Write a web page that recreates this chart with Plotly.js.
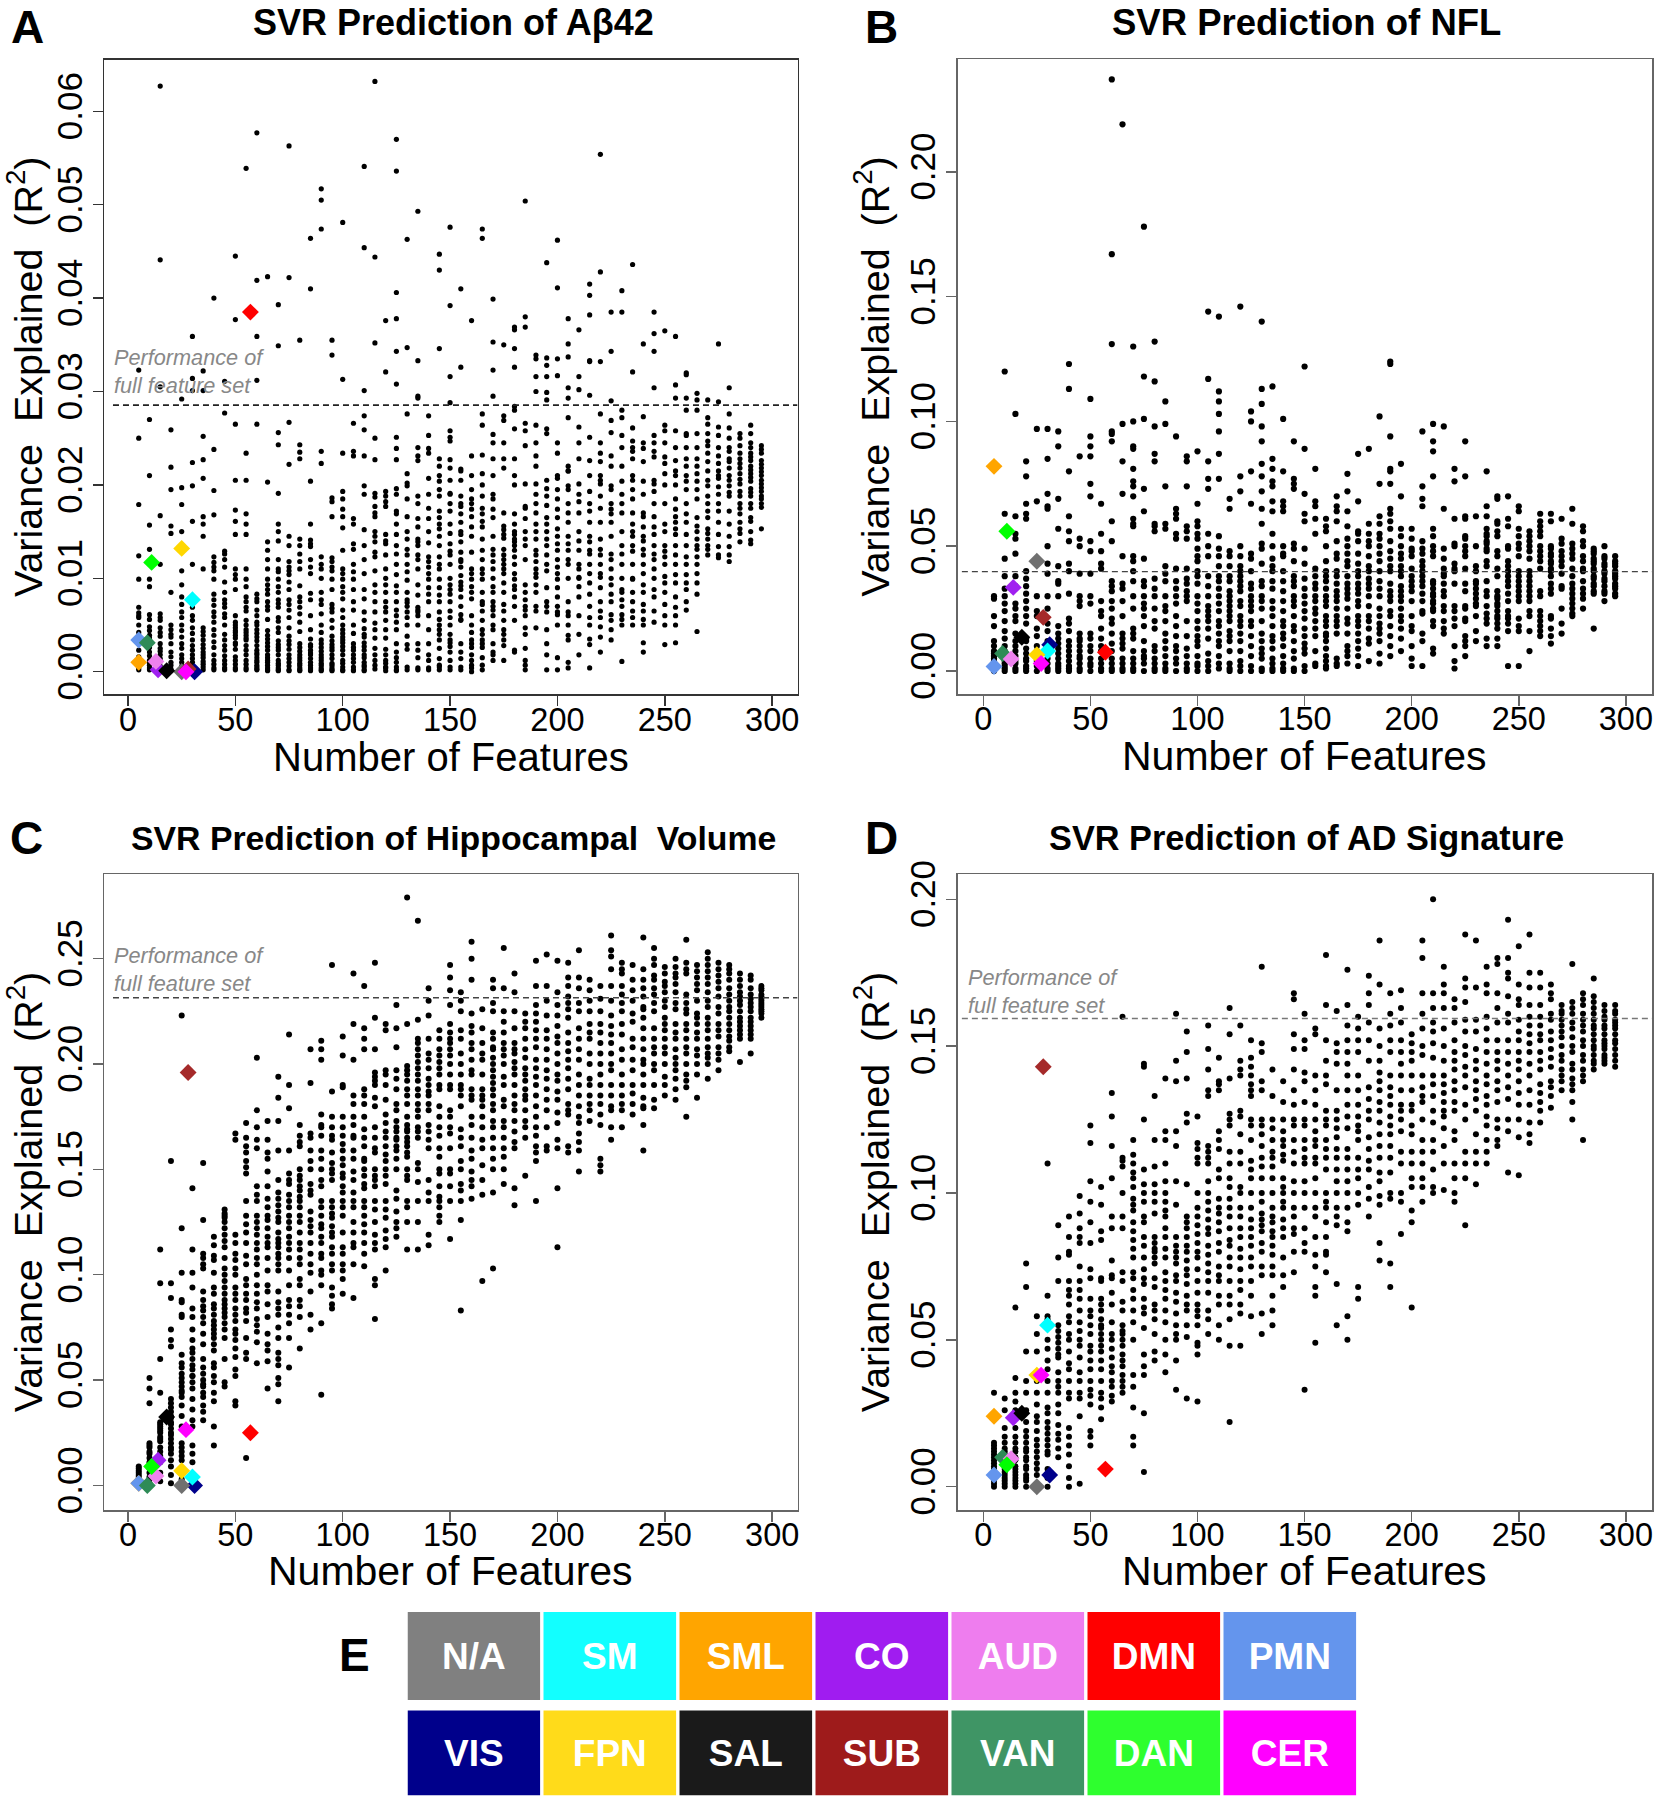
<!DOCTYPE html>
<html><head><meta charset="utf-8">
<script src="https://cdn.plot.ly/plotly-3.0.1.min.js"></script>
<style>html,body{margin:0;padding:0;background:#fff}</style></head>
<body><div id="chart" style="width:1659px;height:1800px"></div>
<script>
const featureCounts=[5,10,15,20,25,30,35,40,45,50,55,60,65,70,75,80,85,90,95,100,105,110,115,120,125,130,135,140,145,150,155,160,165,170,175,180,185,190,195,200,205,210,215,220,225,230,235,240,245,250,255,260,265,270,275,280,285,290,295];

// Panel A, R^2 in units of 1e-4, one list per feature count
const abeta42Columns=[
[323,250,179,124,99,69,63,58,50,37,23,16,7,2,60,42,30,11,4],
[270,210,157,131,99,91,61,56,48,39,36,26,21,12,7,2,44,33,17,9,4],
[627,441,305,167,115,62,55,47,38,25,18,11,6,2,58,42,30,22,14,4],
[259,219,195,156,148,85,50,40,37,21,10,3,1,45,30,16,7],
[292,197,179,150,108,93,80,64,50,37,25,14,6,1,72,58,44,30,18,10,3],
[359,314,301,224,199,161,115,69,60,47,34,28,18,10,2,55,41,23,14,6],
[322,301,252,227,207,166,158,145,110,47,39,29,21,15,8,2,43,34,25,18,11,5],
[400,238,194,168,123,117,99,77,71,64,53,39,26,12,4,112,108,83,59,45,32,18,8,2],
[311,277,129,126,112,96,77,69,58,34,23,12,4,120,85,73,62,50,40,28,17,8,2],
[445,377,265,205,173,161,147,104,99,88,53,47,42,36,29,12,4,110,60,50,44,39,31,24,16,8,2],
[539,234,205,169,158,147,110,99,91,75,69,50,45,39,34,23,12,4,80,65,55,42,36,28,18,8,2],
[577,419,359,312,265,83,75,66,53,45,37,23,18,12,7,2,78,60,50,41,33,28,20,15,10,5,3],
[423,203,139,120,99,88,83,75,66,56,39,31,23,15,10,2,130,110,93,70,44,35,27,18,12,7,4,1],
[393,349,256,243,191,158,150,120,110,107,91,77,69,58,47,29,23,12,7,2,140,99,85,73,54,42,33,26,18,9,4,1],
[563,422,267,222,145,112,104,96,77,66,47,29,18,10,2,135,118,108,88,72,58,38,33,24,14,6,1],
[355,243,235,228,142,126,110,75,69,53,26,18,12,7,2,135,118,92,80,62,43,30,22,15,9,4,1],
[464,410,204,158,141,134,112,77,45,29,23,18,10,2,137,120,105,84,60,35,27,20,14,7,4,1],
[517,505,474,236,223,123,110,77,72,50,34,26,18,12,7,2,115,100,85,62,42,30,22,15,9,4,1],
[355,339,186,182,166,118,112,99,72,64,47,29,23,18,7,2,122,108,88,68,55,38,33,26,14,9,4,1],
[481,313,234,193,174,166,154,110,99,91,66,50,45,37,31,23,12,2,185,130,105,85,78,58,41,34,27,18,9,5,1],
[266,236,231,164,137,131,107,99,66,23,18,10,2,158,115,88,75,50,41,30,26,14,5,1],
[541,454,301,274,259,231,199,88,64,37,31,23,15,7,2,190,152,135,120,105,78,55,46,40,27,18,10,5,1],
[632,444,352,250,227,191,177,166,150,139,123,93,64,45,18,7,187,170,145,128,108,85,75,52,36,25,12,3],
[376,321,193,188,182,177,147,137,110,93,69,64,45,18,12,4,1,140,125,100,85,75,55,36,24,9,5],
[570,536,406,378,343,308,251,239,227,196,172,169,147,126,104,85,66,53,21,10,2,190,158,135,115,92,75,60,45,30,15,5,1],
[463,347,276,212,202,199,166,142,131,107,77,74,64,58,29,2,185,150,125,115,98,85,70,50,38,24,5],
[493,333,295,293,240,231,226,188,164,142,139,120,93,69,66,64,23,2,180,155,135,125,110,82,60,50,30,15,4],
[274,253,239,234,207,164,123,118,112,99,83,45,18,2,190,175,150,138,105,90,75,60,30,12,4],
[447,430,346,228,220,204,188,172,158,153,123,110,99,75,56,45,34,7,2,210,195,165,145,135,115,90,82,64,50,40,25,14,5],
[476,392,316,288,258,251,247,227,218,191,180,158,137,129,93,83,58,34,31,21,2,205,190,172,148,125,115,100,88,75,65,50,40,27,12,5],
[410,326,217,215,188,177,169,147,139,120,118,96,88,61,56,21,2,205,180,160,150,128,112,103,92,80,70,55,30,14,5],
[376,231,210,185,174,166,99,91,85,50,34,26,12,7,0,195,180,155,145,128,110,105,78,60,42,30,18,4],
[474,464,276,264,232,212,188,169,161,142,110,99,75,72,45,34,26,2,200,175,155,130,120,105,85,65,55,40,30,15,7],
[399,353,323,295,254,245,228,185,174,131,110,91,75,66,50,21,12,210,190,165,145,125,118,100,85,70,60,45,30,18],
[350,274,269,245,228,218,156,147,131,120,110,72,45,34,12,170,152,143,125,115,105,95,85,65,55,40,28],
[369,366,346,326,284,280,260,228,210,169,158,147,139,123,99,88,23,21,200,150,142,135,130,115,105,92,80,70,55],
[504,380,369,266,258,242,201,177,164,142,93,77,66,47,12,7,2,175,150,135,120,85,70,60,40,25],
[339,335,316,300,264,245,231,201,180,158,142,118,110,101,93,47,220,190,170,150,130,125,105,85,70,65],
[438,336,328,316,299,291,260,255,196,188,158,142,115,75,64,18,2,205,178,165,150,135,125,108,90,70,45,30],
[462,411,335,317,245,234,210,207,174,153,137,112,99,64,61,15,2,195,185,165,145,130,120,105,90,80,70,50],
[378,351,337,304,293,272,220,215,199,180,137,120,64,50,39,34,10,4,215,195,170,160,145,130,115,100,75,60],
[366,316,302,262,228,201,182,150,115,101,91,18,245,190,170,140,130,110,100,80,60,40],
[415,403,382,333,332,296,251,226,193,172,139,126,115,83,58,29,4,210,180,160,145,130,105,95,70,50,35],
[554,428,332,276,245,234,210,201,188,142,131,115,101,58,37,21,225,205,175,160,125,105,90,75,65,48],
[385,343,290,269,256,231,199,174,169,126,110,93,83,61,45,34,220,195,180,160,145,120,100,75,55],
[408,385,280,272,253,204,180,126,88,77,61,50,11,240,220,190,170,150,135,115,100,85,70,56],
[436,321,261,247,236,228,210,185,158,145,129,99,75,58,50,240,205,195,170,150,135,115,100,85,65],
[351,273,245,239,204,166,145,131,115,93,72,56,31,21,225,190,170,155,140,125,105,85,65,50],
[385,362,343,304,253,245,236,201,193,166,147,126,110,88,53,230,205,180,155,135,120,100,80,65],
[365,264,258,223,212,158,129,123,102,72,29,245,230,200,180,150,135,115,95,85,60,50],
[359,307,293,258,226,210,174,166,153,147,115,104,69,50,31,240,215,200,185,160,135,125,95,80,60],
[320,318,293,280,255,253,228,220,204,169,147,123,104,88,66,240,210,195,180,160,135,115,95,75],
[298,291,280,228,212,204,156,142,131,123,115,83,43,255,240,220,195,185,165,150,135,105,95],
[291,272,247,242,234,199,188,180,172,153,142,131,265,255,225,215,205,165,148,135,125],
[351,289,262,253,231,223,215,207,172,147,134,122,240,210,198,190,180,160,125],
[304,276,261,250,236,228,218,210,199,188,158,134,118,240,225,205,192,172,145,125],
[255,242,234,223,212,201,193,180,169,153,139,250,228,218,206,188,175,160,148],
[264,255,245,234,226,220,212,204,196,188,180,161,141,137,240,230,216,208,192,175,165,150],
[242,234,226,218,210,201,193,185,180,153,238,222,214,205,197,188,176]];

// Panel B, R^2 in units of 1e-3
const nflColumns=[
[30,29,22,18,12,10,8,7,6,5,4,3,2,1,0],
[120,63,45,38,33,30,27,24,20,16,13,10,8,6,4,3,2,1,0],
[103,62,55,53,47,38,34,27,25,22,20,15,12,10,8,6,4,3,1,0],
[84,78,67,63,61,40,37,34,31,28,25,22,19,13,12,9,7,5,4,2,1,0],
[97,68,30,24,22,17,14,10,8,6,4,2,0],
[97,85,71,66,65,50,43,39,30,25,19,16,12,10,8,5,3,1,0],
[96,90,69,57,42,36,35,30,18,15,13,11,9,7,5,3,2,1,0],
[123,113,80,62,56,52,43,40,31,21,19,16,12,10,8,6,4,2,1,0],
[86,53,50,39,30,28,26,15,13,12,10,8,6,5,3,1,0],
[109,94,90,86,75,70,52,48,39,30,27,15,13,10,8,5,3,2,0],
[67,55,48,43,41,28,24,22,17,13,10,8,5,3,1,0],
[237,167,131,96,95,92,60,52,36,34,32,28,25,21,19,15,11,8,5,3,1,0],
[219,99,84,71,46,35,33,28,22,15,13,11,9,5,3,1,0],
[130,100,90,89,81,76,74,70,61,59,58,46,44,40,36,30,25,17,15,13,8,5,3,1,0],
[178,118,101,73,64,45,36,34,30,27,25,22,18,12,8,6,5,3,0],
[132,116,98,87,84,59,58,56,37,33,30,25,20,17,10,8,5,3,1,0],
[108,99,74,59,57,42,39,36,30,26,24,20,15,12,9,6,3,1,0],
[94,65,63,61,55,53,41,36,33,30,27,22,18,14,10,8,5,3,0],
[86,84,74,58,56,53,41,37,35,32,30,28,20,14,9,6,3,1,0],
[88,67,60,58,55,53,49,46,40,38,30,24,20,14,10,6,3,2,0,44,35,27,17,12],
[144,117,84,77,73,55,50,38,26,24,20,17,13,7,4,2,0,46,34,30,22],
[142,112,108,103,96,87,77,54,49,46,38,36,30,24,20,15,10,6,3,1,42,33,27,18,12],
[69,65,46,42,38,32,28,24,20,16,12,8,3,1,0,48,36,30,26,22,14],
[146,78,72,46,42,40,36,32,26,22,18,15,12,8,4,2,0,50,38,34,28,20],
[104,100,80,67,47,35,33,28,26,20,14,10,6,2,0,45,40,30,24,18],
[140,113,107,98,92,83,78,72,65,59,51,49,36,34,25,15,12,9,7,5,1,0,43,30,28,20],
[114,85,81,76,74,68,64,55,45,42,36,28,25,18,14,9,5,3,1,0,50,40,33,22,12],
[101,80,68,66,64,50,47,36,32,24,20,15,10,6,3,1,0,46,40,28,18,13],
[92,77,75,73,51,49,38,36,30,26,22,16,12,8,5,1,0,44,34,28,18],
[122,89,71,63,60,49,43,37,30,27,24,17,14,11,7,2,0,33,21,9],
[81,68,66,41,38,30,28,25,20,17,14,8,3,2,61,55,35,33,23],
[61,58,56,44,40,36,33,30,26,22,18,15,12,9,6,4,2,1,50,38,28,20,14],
[70,66,64,60,52,47,40,35,32,28,25,22,18,15,5,3,2,45,38,30,20],
[79,72,64,58,53,47,42,38,33,29,25,21,15,10,8,6,3,50,44,35,31,19],
[87,68,56,55,47,43,38,35,31,26,22,18,12,9,6,2,52,40,33,28,20,15],
[89,59,55,50,46,42,37,33,26,22,17,13,11,4,52,40,35,30,20],
[102,75,62,59,55,50,44,36,30,25,19,15,12,7,3,53,47,40,33,22,17],
[124,123,94,81,80,75,65,63,60,57,52,45,40,32,28,24,18,14,10,6,48,42,35,30,22],
[83,70,57,50,47,42,38,34,30,28,22,17,13,8,54,45,40,32,25,20],
[57,53,49,48,46,41,38,36,34,32,28,22,18,16,10,5,2],
[96,74,69,66,52,49,47,44,42,40,38,36,34,31,28,24,23,15,12,2],
[99,92,88,78,57,54,50,48,46,36,35,33,31,30,28,27,25,24,20,18,9,7],
[98,65,49,45,41,39,38,35,32,30,26,24,20,17,15],
[81,76,61,51,50,43,41,40,35,26,24,21,18,10,4,1],
[92,78,62,61,54,53,50,48,46,41,35,32,26,25,21,20,14,12,10,6],
[62,50,42,40,36,35,33,31,29,27,26,22,16,12],
[80,66,62,57,55,54,52,51,49,48,44,42,36,32,30,26,23,21,19,13,10],
[70,69,60,59,56,54,48,46,41,38,32,30,29,27,26,24,22,21,19,17,13,10],
[70,61,58,50,49,44,42,40,38,36,34,31,28,24,22,21,19,16,2],
[66,64,57,54,51,49,46,40,38,36,34,32,30,28,21,18,16,2],
[56,54,52,50,48,45,40,38,36,34,32,30,28,24,22,16,8],
[63,60,58,56,54,50,48,46,44,41,32,30,24,22,20,18,16,14],
[63,60,50,49,47,46,44,43,41,40,38,35,33,31,22,21,17,14,11],
[61,53,51,48,46,44,42,39,34,33,25,19,15],
[65,59,51,49,47,45,41,38,35,33,31,29,27,25,23,22],
[58,56,52,50,46,44,41,40,36,33,31,29,25],
[49,48,47,45,44,43,41,40,38,37,35,34,32,31,17],
[50,46,45,43,42,40,39,37,36,34,32,31,28],
[46,44,43,42,40,39,38,37,35,34,33,31,30]];

// Panel C, R^2 in units of 1e-3
const hippocampalColumns=[
[9,8,7,6,5,4,3,2,1,0],
[51,46,39,20,19,18,16,15,13,11,9,8,6,4,3,1],
[112,96,60,44,30,29,28,27,26,25,23,22,21,18,16,14,12,11,6,2],
[154,96,89,74,69,66,41,39,37,35,33,32,30,29,27,25,24,22,20,18,17,15,12,9,5,1],
[223,122,101,88,87,81,80,62,58,56,53,51,49,47,45,44,42,38,33,28,20,18,16,14,12,6,3],
[141,112,101,94,84,80,74,69,65,63,60,57,55,52,52,49,46,41,36,31,28,19,15,11],
[153,126,110,108,105,103,92,88,85,83,80,77,72,67,60,56,53,50,48,47,44,42,38,35,31],
[118,114,109,107,101,94,91,86,84,81,78,76,74,72,70,67,64,58,56,52,49,44,40,28,19],
[131,129,128,127,125,122,119,116,113,108,103,100,97,94,91,88,86,84,82,80,77,74,70,60,49,47],
[167,164,119,115,110,107,103,100,94,91,88,84,81,78,74,72,69,65,61,55,52,40,38],
[172,165,161,158,154,151,148,135,128,124,120,115,109,105,98,95,91,88,84,82,78,70,63,60,13],
[203,178,170,164,160,142,138,135,128,125,122,119,115,112,108,105,100,95,91,87,84,79,76,73,68,58],
[173,164,158,155,149,142,136,132,128,126,122,118,115,113,108,102,95,92,86,80,72,67,64,59,46],
[194,184,173,159,145,139,136,133,130,127,125,120,117,115,113,110,108,105,102,92,87,84,81,75,70,63,60,57,51,48,40],
[214,190,179,159,148,145,143,138,135,132,128,125,122,118,115,112,108,102,95,88,85,81,77,70,56],
[171,166,163,161,150,147,145,142,140,137,135,132,128,125,120,115,112,108,105,98,95,88,85,80,65],
[207,191,167,165,159,154,150,143,140,138,130,126,123,120,115,110,105,101,92,81,74],
[211,207,202,176,171,170,166,159,155,150,145,142,135,132,128,124,122,118,115,110,108,102,100,95,77,43],
[247,187,175,170,166,164,158,153,150,148,145,135,132,129,127,123,120,118,113,110,105,102,94,90,86,84],
[213,204,190,189,175,170,166,162,159,155,152,148,146,142,139,135,132,128,120,113,110,105,102,98,91],
[243,219,202,185,181,175,171,166,165,159,155,149,145,139,135,132,125,120,115,113,105,89],
[237,217,212,207,188,185,181,175,169,165,161,155,154,150,147,143,141,135,132,128,124,120,115,110,104],
[248,222,207,196,194,192,190,184,180,170,165,160,158,150,147,145,142,135,131,125,119,115,112,98,95,79],
[219,216,197,195,190,183,176,172,168,165,161,157,154,150,147,143,135,131,127,121,117,113,102],
[228,217,208,197,193,188,181,178,173,170,168,165,164,161,159,155,150,140,136,130,125,122,118],
[279,219,199,197,195,192,188,185,181,175,171,169,168,165,163,161,158,156,150,147,145,135,132,125,112],
[268,221,212,210,207,204,201,198,195,192,188,185,181,178,175,170,168,165,153,150,144,135,125,112],
[236,230,223,212,205,202,198,193,190,187,185,181,178,171,168,164,160,145,139,135,119,114],
[216,212,207,204,201,198,195,190,188,180,175,170,166,160,156,150,148,142,137,135,132,128,125],
[247,241,235,228,219,215,212,210,207,204,200,195,190,188,178,175,170,167,160,150,148,142,135,117],
[234,230,225,216,212,205,200,195,190,188,185,180,169,165,161,154,150,143,140,135,126,83],
[258,250,240,224,218,215,210,207,202,197,195,188,185,183,175,171,165,159,155,149,145,142,136],
[226,217,210,205,202,195,188,185,183,180,175,170,164,160,152,145,138,97],
[240,236,229,225,215,212,208,207,203,200,197,194,191,188,185,181,178,173,170,165,160,155,150,139,103],
[255,236,225,220,215,210,207,204,200,194,190,183,180,173,170,165,160,156,150,143],
[243,234,225,217,210,207,205,201,198,195,190,185,181,178,173,168,163,160,141,133],
[224,220,217,212,207,203,198,195,192,188,185,183,178,173,170,165,147],
[249,237,228,224,220,216,212,208,202,198,194,190,185,180,175,170,166,161,158,154,135],
[252,237,230,223,216,212,207,202,197,193,188,183,178,170,161,159],
[249,234,228,223,218,213,210,205,200,195,192,187,183,177,172,164,160,141,113],
[248,241,237,232,229,226,222,215,210,206,202,198,193,188,181,178,176,161,158],
[254,241,236,229,225,217,212,207,202,195,190,185,180,175,172,167,163,159,149],
[240,235,230,225,219,215,212,205,200,193,190,185,181,178,173],
[237,231,225,219,215,210,205,200,195,190,185,181,176,171,155,152,149],
[261,254,251,245,237,230,223,218,214,210,205,200,197,190,185,180,178,170,164],
[248,245,243,237,233,229,225,219,214,207,202,195,190,185,181,178,170],
[247,240,235,230,224,220,212,208,202,197,190,186,181,176],
[260,245,240,236,232,227,226,222,217,212,207,202,200,195,190,184,180,179,171,159],
[255,250,247,242,240,236,233,229,225,217,212,208,205,200,197,190,183,179],
[246,243,239,237,234,230,227,222,219,216,212,208,205,200,194,190,185],
[250,246,243,241,238,234,229,226,219,215,212,207,203,200,197,193,188,183],
[259,248,245,243,233,229,226,224,219,216,212,208,205,200,195,192,189,175],
[247,244,241,238,235,230,224,222,219,215,212,207,204,200,195,184],
[253,250,247,244,241,238,234,230,227,222,219,216,212,208,205,203,200,193],
[248,245,242,239,236,232,227,224,219,216,213,208,205,202,197],
[247,245,243,240,236,233,230,227,225,222,219,216,213,211,208,206],
[243,240,237,234,232,230,228,225,222,220,218,216,214,212,201],
[242,240,236,233,231,229,227,225,222,220,218,216,214,212,205],
[237,236,235,233,232,231,230,229,228,227,226,225,224,222]];

// Panel D, R^2 in units of 1e-3
const adSignatureColumns=[
[32,15,14,13,12,11,10,9,8,7,6,5,4,3,2,1,0],
[30,26,20,17,15,13,12,11,10,9,8,7,6,5,4,3,2,1,0],
[61,37,32,29,26,20,17,15,13,12,10,9,7,6,5,4,3,2,1,0],
[76,68,46,36,32,26,22,19,17,15,13,12,10,9,7,6,4,3,2,0],
[58,52,46,36,32,28,24,22,19,16,14,12,10,8,6,4],
[110,65,58,57,50,47,43,40,36,32,27,25,22,20,18,16,14,12,11,6,3,0],
[89,78,70,55,53,51,49,47,45,44,39,36,34,32,28,25,21,18,16,13,10],
[92,85,80,79,70,67,65,62,58,56,52,50,46,42,40,36,32,30,20,17,14,11,7,3,0],
[99,93,88,85,83,75,70,67,64,60,56,53,50,48,44,39,36,32,30,24,1],
[123,117,104,97,90,83,74,71,64,60,58,55,52,48,46,43,40,36,33,31,28,19,17,14],
[102,96,87,84,71,70,64,62,60,57,55,54,52,50,48,46,43,40,36,32,30,27,23],
[134,126,116,105,92,88,77,72,71,66,62,56,52,50,47,44,41,39,36,34,31,29],
[160,112,111,109,100,92,88,73,70,63,60,55,53,52,50,48,45,43,41,38,36,34,32],
[118,113,110,107,105,102,98,96,94,90,87,84,81,78,73,71,67,64,60,56,50,38,34,27,17,14],
[144,143,125,108,103,100,97,92,90,85,82,78,74,71,69,64,61,59,54,45,41,38,25,5],
[133,118,109,103,100,97,93,85,83,81,80,78,76,71,68,62,60,57,52,46,43],
[139,121,118,110,104,100,97,94,92,88,85,81,78,73,70,67,64,60,56,50,45,39],
[161,145,138,121,116,104,96,85,82,80,78,76,72,70,66,63,59,55,52,50,43,33],
[155,148,139,127,124,103,92,90,88,85,82,80,77,74,72,69,65,62,60,55,51,30],
[126,117,115,112,110,100,95,92,89,86,83,80,78,74,70,66,62,60,58,55,49,48,45,29],
[157,149,142,135,133,116,114,112,110,104,100,97,94,91,88,86,82,79,76,73,70,66,60,57,52],
[146,138,137,135,121,118,115,108,105,98,95,93,90,87,83,80,75,72,70,65,62,55,50],
[163,154,139,127,125,123,114,110,105,102,98,95,92,88,84,82,78,75,70,65,62,57,48,22],
[157,145,142,140,128,126,120,114,110,102,100,95,92,88,85,81,78,74,70,67,62,59,48],
[152,146,143,140,137,135,133,125,123,118,111,108,105,100,95,91,88,85,82,78,75,70,65,58],
[177,151,148,138,135,125,123,120,116,112,109,105,100,97,93,91,89,87,83,80,75,72,59,52],
[142,133,125,122,118,114,112,109,105,100,95,92,90,87,85,82,79,75,72,65,60,55],
[138,131,125,121,118,116,113,111,105,102,100,97,95,91,88,85,78,72,68],
[168,166,154,149,142,135,130,125,123,118,114,110,104,100,95,92,88,86,80,73],
[161,152,149,141,138,131,125,123,118,115,112,110,104,100,95,88,83,80,33],
[156,154,140,135,130,125,121,118,116,112,110,105,100,95,92,85,79,75,68,65,49],
[181,164,152,145,140,137,128,125,123,118,115,112,108,100,97,95,90,85,80,79,73],
[162,151,148,144,135,128,125,122,119,115,112,108,104,100,95,92,89,69,55],
[176,164,157,152,148,144,140,135,130,126,122,115,112,108,104,100,95,90,87,58,50],
[160,156,152,148,140,135,130,126,123,121,118,112,108,105,100,96,68,64],
[174,168,164,158,152,145,136,132,128,125,119,115,111,108,102,98,92],
[186,171,156,150,145,141,138,135,131,128,124,120,116,112,107,104,99,96,83,77],
[168,161,157,152,148,140,136,133,130,126,123,120,116,112,107,100,98,76,68],
[169,163,158,152,148,144,140,135,130,128,125,121,114,110,100,97,86],
[154,151,148,145,140,135,130,128,123,120,114,110,105,102,94,90,61],
[186,180,168,161,156,150,147,140,136,133,131,125,118,114,110,105,102,97],
[200,168,163,158,155,151,146,140,137,133,128,124,118,114,108,102,100],
[177,171,168,163,156,150,145,140,137,134,131,128,126,122,116,110,101],
[166,163,158,152,148,145,142,138,135,131,128,121,118,110,105,100,97],
[188,173,170,165,159,155,150,147,143,140,136,130,125,114,110,105,89],
[186,170,159,155,149,145,142,138,135,132,128,120,114,110,103],
[177,171,168,160,156,152,148,144,140,137,133,130,126,123,118,114,110],
[180,178,168,163,158,152,148,145,142,138,135,131,125,122,118,116],
[193,180,175,173,167,161,158,152,148,144,140,136,132,125,121,107],
[184,171,166,164,159,155,152,148,145,142,138,134,130,125,119,106],
[188,175,170,164,160,157,154,151,148,144,140,135,130,124,120,117],
[175,170,164,160,157,154,152,148,145,142,137,134,131,128,124],
[171,168,166,161,159,155,152,149,146,143,138,136,133,129],
[164,162,161,159,157,155,153,150,147,145,142,140,138,135],
[178,165,163,161,158,156,153,150,148,144,142,139,137,135,131,125],
[168,166,164,161,159,157,155,152,150,147,145,142,140,138,118],
[173,167,165,163,161,159,157,156,154,152,150,149,147,145,144,142],
[164,162,160,159,157,156,154,152,151,150,149,147,146,145,144],
[164,162,161,159,158,157,156,154,152,151,149,147,145,143]];

// Canonical networks, drawing order of the diamonds
const networkNames=['VIS','N/A','SM','SML','PMN','VAN','CO','AUD','SAL','DMN','FPN','SUB','DAN','CER'];
const networkSizes=[31,25,30,5,5,9,14,13,18,57,25,28,11,27];
const networkColors=['#00008B','#707070','#00FFFF','#FFA500','#6495ED','#2E8B57','#A020F0','#EE82EE','#000000','#FF0000','#FFD700','#A52A2A','#00FF00','#FF00FF'];
const abeta42Networks=[0,0,0.0077,0.0010,0.0034,0.0031,0.0002,0.0011,0.0001,0.0385,0.0132,0.0003,0.0117,0];
const nflNetworks=[0.0105,0.044,0.008,0.082,0.0018,0.007,0.0335,0.0048,0.0135,0.0075,0.0065,0.0215,0.056,0.003];
const hippocampalNetworks=[0,0,0.004,0.001,0.001,0,0.012,0.0045,0.0325,0.025,0.007,0.196,0.009,0.0265];
const adSignatureNetworks=[0.004,0,0.055,0.024,0.004,0.01,0.0235,0.0095,0.025,0.006,0.038,0.143,0.0075,0.038];

// Legend of panel E, by row
const legendTop=['N/A','SM','SML','CO','AUD','DMN','PMN'];
const legendTopColors=['#808080','#12FFFF','#FFA500','#A01CF0','#EE7DEE','#FF0000','#6495ED'];
const legendBottom=['VIS','FPN','SAL','SUB','VAN','DAN','CER'];
const legendBottomColors=['#00008B','#FFDB1A','#1A1A1A','#9E1B1B','#3F9565','#2EFF2E','#FF00FF'];

const W=1659,H=1800;
const panels=[
 {cols:abeta42Columns,unit:1e-4,net:abeta42Networks,full:0.02855,title:'SVR Prediction of Aβ42',letter:'A',
  box:[104,797.5,59.5,694],xr:[-11.18,311.8],yr:[-0.00239,0.06555],dtick:0.01,dot:5.2,line:'#333',dash:'#222',dw:1.7,dx:-7,
  ty:22,tx:453.5,tf:36,lx:27,ly:27,note:[112,371],noteOn:true,xtf:40,xty:757,yst:18.5,xts:-14},
 {cols:nflColumns,unit:1e-3,net:nflNetworks,full:0.0398,title:'SVR Prediction of NFL',letter:'B',
  box:[957.5,1652,59,694],xr:[-12.04,312.2],yr:[-0.00921,0.24519],dtick:0.05,dot:6.2,line:'#666',dash:'#444',dw:1.3,dx:-10,
  ty:22,tx:1306,tf:36.5,lx:881,ly:27,noteOn:false,xtf:41,xty:756,yst:1,xts:-15},
 {cols:hippocampalColumns,unit:1e-3,net:hippocampalNetworks,full:0.2314,title:'SVR Prediction of Hippocampal  Volume',letter:'C',
  box:[104,797.5,874,1510],xr:[-11.18,311.8],yr:[-0.01164,0.29016],dtick:0.05,dot:6,line:'#666',dash:'#444',dw:1.5,dx:-7,
  ty:838,tx:453,tf:33.8,lx:26,ly:838,note:[112,969],noteOn:true,xtf:41,xty:1571,yst:18.5,xts:-15},
 {cols:adSignatureColumns,unit:1e-3,net:adSignatureNetworks,full:0.1594,title:'SVR Prediction of AD Signature',letter:'D',
  box:[957.5,1652,874,1510],xr:[-12.04,312.2],yr:[-0.00793,0.2086],dtick:0.05,dot:6,line:'#666',dash:'#777',dw:1.5,dx:-10,
  ty:838,tx:1306,tf:34.3,lx:881,ly:838,note:[966,991],noteOn:true,xtf:41,xty:1571,yst:1,xts:-15}
];
const FONT='"Liberation Sans",Arial,sans-serif';
const px=x=>x/W, py=y=>1-y/H;
const traces=[],annotations=[],layout={
 width:W,height:H,margin:{l:0,r:0,t:0,b:0},paper_bgcolor:'#fff',plot_bgcolor:'#fff',showlegend:false,
 font:{family:FONT,color:'#000'},hovermode:false,annotations};

panels.forEach((p,i)=>{
 const n=i+1,xa='xaxis'+(n>1?n:''),ya='yaxis'+(n>1?n:''),xr='x'+(n>1?n:''),yr='y'+(n>1?n:'');
 const xs=[],ys=[];
 p.cols.forEach((c,k)=>c.forEach(v=>{xs.push(featureCounts[k]);ys.push(v*p.unit);}));
 traces.push({type:'scatter',mode:'markers',x:xs,y:ys,xaxis:xr,yaxis:yr,marker:{color:'#000',size:p.dot,line:{width:0}}});
 traces.push({type:'scatter',mode:'lines',x:[p.dx,p.xr[1]],y:[p.full,p.full],xaxis:xr,yaxis:yr,line:{color:p.dash,width:p.dw,dash:'6px,4px'}});
 traces.push({type:'scatter',mode:'markers',x:networkSizes,y:p.net,xaxis:xr,yaxis:yr,text:networkNames,
   marker:{symbol:'diamond',size:13,color:networkColors,line:{width:0}}});
 layout[xa]={domain:[px(p.box[0]),px(p.box[1])],range:p.xr,anchor:yr,tick0:0,dtick:50,ticks:'outside',ticklen:10,tickwidth:1.5,tickcolor:p.line,
   showline:true,mirror:true,linecolor:p.line,linewidth:1.5,showgrid:false,zeroline:false,tickfont:{size:32.5,family:FONT},ticklabelstandoff:p.xts};
 layout[ya]={domain:[py(p.box[3]),py(p.box[2])],range:p.yr,anchor:xr,tick0:0,dtick:p.dtick,tickformat:'.2f',ticks:'outside',ticklen:10,tickwidth:1.5,tickcolor:p.line,
   tickangle:-90,showline:true,mirror:true,linecolor:p.line,linewidth:1.5,showgrid:false,zeroline:false,tickfont:{size:35,family:FONT},ticklabelstandoff:-3,
   title:{text:'Variance  Explained  (R<sup>2</sup>)',font:{size:39.5,family:FONT},standoff:p.yst}};
 annotations.push({xref:'paper',yref:'paper',x:px((p.box[0]+p.box[1])/2),y:py(p.xty),text:'Number of Features',showarrow:false,font:{size:p.xtf,family:FONT,color:'#000'},xanchor:'center',yanchor:'middle'});
 annotations.push({xref:'paper',yref:'paper',x:px(p.tx),y:py(p.ty),text:'<b>'+p.title+'</b>',showarrow:false,font:{size:p.tf,family:FONT,color:'#000'},xanchor:'center',yanchor:'middle'});
 annotations.push({xref:'paper',yref:'paper',x:px(p.lx),y:py(p.ly),text:'<b>'+p.letter+'</b>',showarrow:false,font:{size:46,family:FONT,color:'#000'},xanchor:'center',yanchor:'middle'});
 if(p.noteOn)annotations.push({xref:'paper',yref:'paper',x:px(p.note[0]),y:py(p.note[1]),text:'<i>Performance of<br>full feature set</i>',showarrow:false,align:'left',font:{size:21.7,family:FONT,color:'#888'},xanchor:'left',yanchor:'middle'});
});
annotations.push({xref:'paper',yref:'paper',x:px(354),y:py(1655),text:'<b>E</b>',showarrow:false,font:{size:46,family:FONT,color:'#000'},xanchor:'center',yanchor:'middle'});

// Panel E as a bar trace on its own hidden axes: 7 columns, 2 rows
const legendIdx=legendTop.map((_,k)=>k+0.4875);
traces.push({type:'bar',x:legendIdx.concat(legendIdx),y:legendTop.map(()=>0.958).concat(legendBottom.map(()=>0.926)),
 base:legendTop.map(()=>1.041).concat(legendBottom.map(()=>0)),width:0.975,xaxis:'x5',yaxis:'y5',
 marker:{color:legendTopColors.concat(legendBottomColors),line:{width:0}},
 text:legendTop.concat(legendBottom),textposition:'inside',insidetextanchor:'middle',textangle:0,constraintext:'none',
 insidetextfont:{size:37,family:FONT,color:'#fff',weight:'bold'}});
layout.xaxis5={domain:[px(407.5),px(1359.5)],range:[0,7],anchor:'y5',visible:false,fixedrange:true};
layout.yaxis5={domain:[py(1795.6),py(1612)],range:[0,2],anchor:'x5',visible:false,fixedrange:true};

Plotly.newPlot('chart',traces,layout,{staticPlot:true,displayModeBar:false});
</script></body></html>
